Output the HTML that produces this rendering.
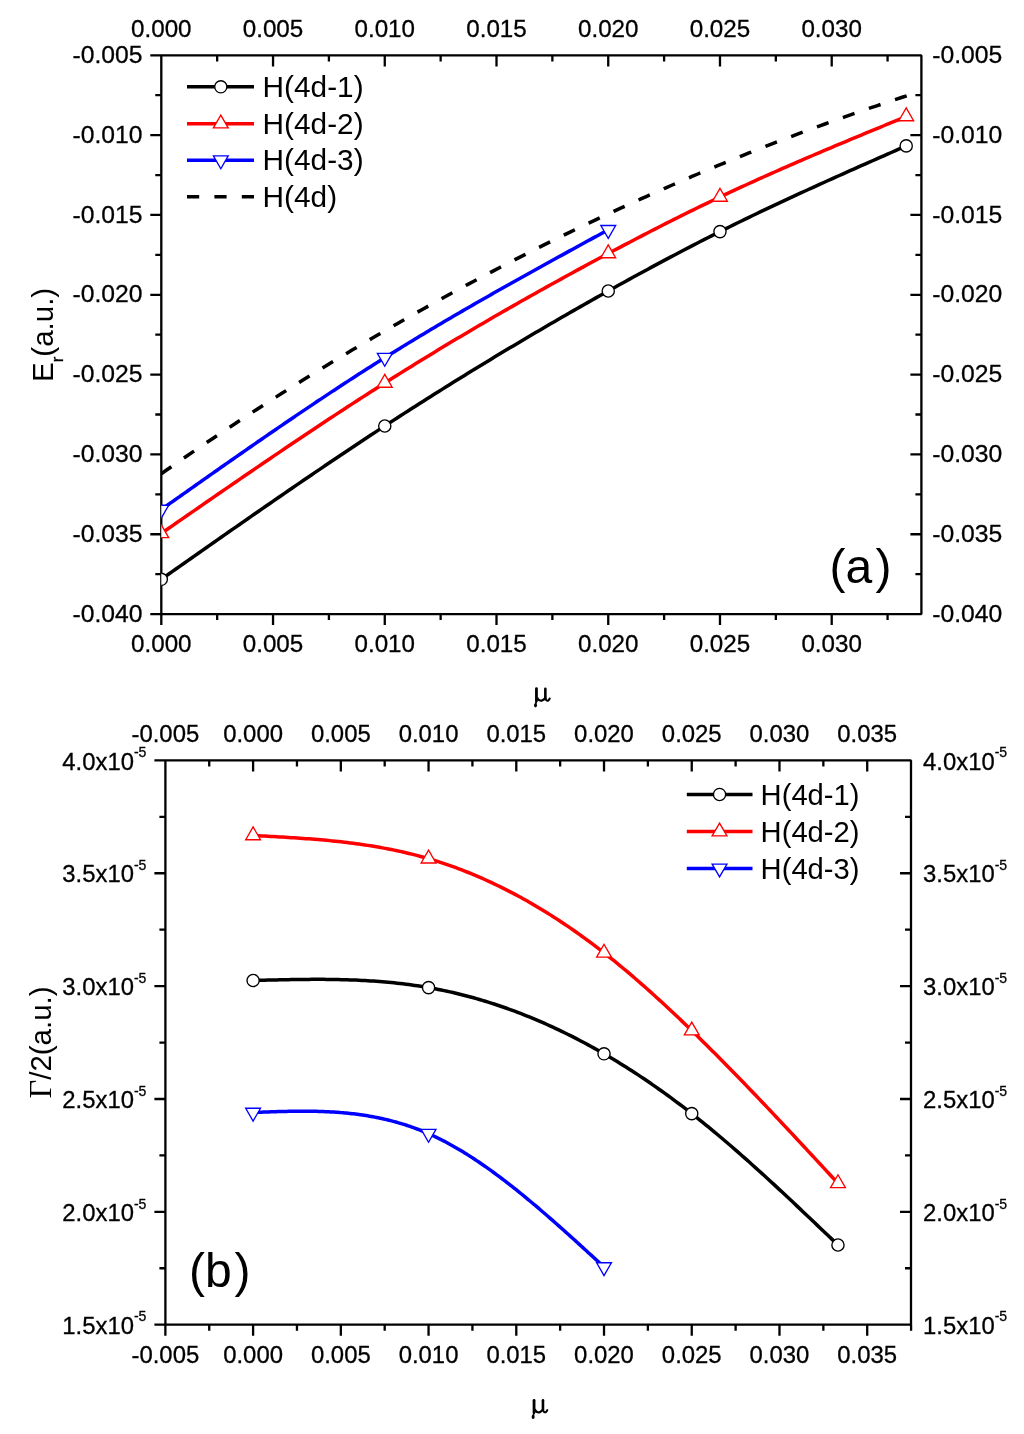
<!DOCTYPE html>
<html><head><meta charset="utf-8"><title>Er and Gamma/2 vs mu</title><style>
html,body{margin:0;padding:0;background:#fff;}
svg{display:block;will-change:transform;}
text{font-kerning:none;stroke:#000;stroke-width:0.3px;fill:#000;}
</style></head><body>
<svg width="1024" height="1434" viewBox="0 0 1024 1434">
<defs><clipPath id="ca"><rect x="161.3" y="55.4" width="760.0999999999999" height="558.7"/></clipPath><clipPath id="cb"><rect x="165.4" y="760.4" width="745.6" height="564.3000000000001"/></clipPath></defs>
<rect width="1024" height="1434" fill="#fff"/>
<rect x="161.3" y="55.4" width="760.0999999999999" height="558.7" fill="none" stroke="#000" stroke-width="2.3" stroke-linejoin="bevel"/>
<path d="M161.3 614.1v11.0M273.04 614.1v11.0M273.04 55.4v11.0M384.77 614.1v11.0M384.77 55.4v11.0M496.5 614.1v11.0M496.5 55.4v11.0M608.24 614.1v11.0M608.24 55.4v11.0M719.98 614.1v11.0M719.98 55.4v11.0M831.71 614.1v11.0M831.71 55.4v11.0M217.17 614.1v6.0M217.17 55.4v6.0M328.9 614.1v6.0M328.9 55.4v6.0M440.64 614.1v6.0M440.64 55.4v6.0M552.37 614.1v6.0M552.37 55.4v6.0M664.11 614.1v6.0M664.11 55.4v6.0M775.84 614.1v6.0M775.84 55.4v6.0M887.58 614.1v6.0M887.58 55.4v6.0M161.3 614.1h-11.0M161.3 534.27h-11.0M921.4 534.27h-11.0M161.3 454.44h-11.0M921.4 454.44h-11.0M161.3 374.61h-11.0M921.4 374.61h-11.0M161.3 294.78h-11.0M921.4 294.78h-11.0M161.3 214.95h-11.0M921.4 214.95h-11.0M161.3 135.12h-11.0M921.4 135.12h-11.0M161.3 55.29h-11.0M161.3 574.18h-6.0M921.4 574.18h-6.0M161.3 494.36h-6.0M921.4 494.36h-6.0M161.3 414.52h-6.0M921.4 414.52h-6.0M161.3 334.69h-6.0M921.4 334.69h-6.0M161.3 254.86h-6.0M921.4 254.86h-6.0M161.3 175.03h-6.0M921.4 175.03h-6.0M161.3 95.21h-6.0M921.4 95.21h-6.0" stroke="#000" stroke-width="2.3" fill="none"/>
<g fill="#000"><text x="131.02" y="651.60" font-family="'Liberation Sans', sans-serif" font-size="24.2">0.000</text><text x="131.02" y="37.00" font-family="'Liberation Sans', sans-serif" font-size="24.2">0.000</text><text x="242.76" y="651.60" font-family="'Liberation Sans', sans-serif" font-size="24.2">0.005</text><text x="242.76" y="37.00" font-family="'Liberation Sans', sans-serif" font-size="24.2">0.005</text><text x="354.49" y="651.60" font-family="'Liberation Sans', sans-serif" font-size="24.2">0.010</text><text x="354.49" y="37.00" font-family="'Liberation Sans', sans-serif" font-size="24.2">0.010</text><text x="466.23" y="651.60" font-family="'Liberation Sans', sans-serif" font-size="24.2">0.015</text><text x="466.23" y="37.00" font-family="'Liberation Sans', sans-serif" font-size="24.2">0.015</text><text x="577.96" y="651.60" font-family="'Liberation Sans', sans-serif" font-size="24.2">0.020</text><text x="577.96" y="37.00" font-family="'Liberation Sans', sans-serif" font-size="24.2">0.020</text><text x="689.70" y="651.60" font-family="'Liberation Sans', sans-serif" font-size="24.2">0.025</text><text x="689.70" y="37.00" font-family="'Liberation Sans', sans-serif" font-size="24.2">0.025</text><text x="801.43" y="651.60" font-family="'Liberation Sans', sans-serif" font-size="24.2">0.030</text><text x="801.43" y="37.00" font-family="'Liberation Sans', sans-serif" font-size="24.2">0.030</text><text x="72.56" y="621.70" font-family="'Liberation Sans', sans-serif" font-size="24.7">-0.040</text><text x="932.30" y="621.70" font-family="'Liberation Sans', sans-serif" font-size="24.7">-0.040</text><text x="72.56" y="541.87" font-family="'Liberation Sans', sans-serif" font-size="24.7">-0.035</text><text x="932.30" y="541.87" font-family="'Liberation Sans', sans-serif" font-size="24.7">-0.035</text><text x="72.56" y="462.04" font-family="'Liberation Sans', sans-serif" font-size="24.7">-0.030</text><text x="932.30" y="462.04" font-family="'Liberation Sans', sans-serif" font-size="24.7">-0.030</text><text x="72.56" y="382.21" font-family="'Liberation Sans', sans-serif" font-size="24.7">-0.025</text><text x="932.30" y="382.21" font-family="'Liberation Sans', sans-serif" font-size="24.7">-0.025</text><text x="72.56" y="302.38" font-family="'Liberation Sans', sans-serif" font-size="24.7">-0.020</text><text x="932.30" y="302.38" font-family="'Liberation Sans', sans-serif" font-size="24.7">-0.020</text><text x="72.56" y="222.55" font-family="'Liberation Sans', sans-serif" font-size="24.7">-0.015</text><text x="932.30" y="222.55" font-family="'Liberation Sans', sans-serif" font-size="24.7">-0.015</text><text x="72.56" y="142.72" font-family="'Liberation Sans', sans-serif" font-size="24.7">-0.010</text><text x="932.30" y="142.72" font-family="'Liberation Sans', sans-serif" font-size="24.7">-0.010</text><text x="72.56" y="62.89" font-family="'Liberation Sans', sans-serif" font-size="24.7">-0.005</text><text x="932.30" y="62.89" font-family="'Liberation Sans', sans-serif" font-size="24.7">-0.005</text></g>
<polyline points="161.3,473.75 167.69,469.29 174.07,464.85 180.46,460.44 186.85,456.05 193.24,451.68 199.62,447.34 206.01,443.01 212.4,438.71 218.79,434.43 225.17,430.17 231.56,425.94 237.95,421.72 244.34,417.53 250.72,413.36 257.11,409.21 263.5,405.09 269.89,400.98 276.27,396.9 282.66,392.84 289.05,388.8 295.44,384.78 301.82,380.79 308.21,376.81 314.6,372.86 320.98,368.93 327.37,365.02 333.76,361.13 340.15,357.27 346.53,353.42 352.92,349.6 359.31,345.8 365.7,342.02 372.08,338.26 378.47,334.52 384.86,330.8 391.25,327.1 397.63,323.43 404.02,319.78 410.41,316.14 416.8,312.53 423.18,308.94 429.57,305.37 435.96,301.83 442.35,298.3 448.73,294.79 455.12,291.31 461.51,287.84 467.89,284.4 474.28,280.97 480.67,277.57 487.06,274.19 493.44,270.83 499.83,267.49 506.22,264.17 512.61,260.87 518.99,257.59 525.38,254.33 531.77,251.1 538.16,247.88 544.54,244.68 550.93,241.51 557.32,238.35 563.71,235.21 570.09,232.1 576.48,229 582.87,225.93 589.26,222.88 595.64,219.84 602.03,216.83 608.42,213.83 614.81,210.86 621.19,207.9 627.58,204.97 633.97,202.06 640.35,199.16 646.74,196.29 653.13,193.43 659.52,190.6 665.9,187.78 672.29,184.99 678.68,182.21 685.07,179.46 691.45,176.72 697.84,174 704.23,171.31 710.62,168.63 717,165.97 723.39,163.34 729.78,160.72 736.17,158.12 742.55,155.54 748.94,152.98 755.33,150.44 761.72,147.91 768.1,145.41 774.49,142.93 780.88,140.46 787.26,138.02 793.65,135.59 800.04,133.19 806.43,130.8 812.81,128.43 819.2,126.08 825.59,123.75 831.98,121.44 838.36,119.15 844.75,116.87 851.14,114.62 857.53,112.38 863.91,110.17 870.3,107.97 876.69,105.79 883.08,103.63 889.46,101.48 895.85,99.36 902.24,97.26 908.63,95.17 915.01,93.1 921.4,91.05" fill="none" stroke="#000" stroke-width="3.5" stroke-linejoin="round" stroke-dasharray="12.3 15.25" stroke-linecap="butt" clip-path="url(#ca)"/>
<polyline points="161.3,579.3 165.04,576.67 168.79,574.04 172.53,571.41 176.27,568.78 180.02,566.15 183.76,563.52 187.5,560.89 191.25,558.26 194.99,555.64 198.73,553.01 202.48,550.38 206.22,547.76 209.96,545.14 213.71,542.52 217.45,539.9 221.19,537.28 224.93,534.66 228.68,532.05 232.42,529.43 236.16,526.82 239.91,524.22 243.65,521.61 247.39,519.01 251.14,516.4 254.88,513.8 258.62,511.21 262.37,508.61 266.11,506.02 269.85,503.44 273.6,500.85 277.34,498.27 281.08,495.69 284.83,493.12 288.57,490.55 292.31,487.98 296.06,485.41 299.8,482.85 303.54,480.3 307.29,477.75 311.03,475.2 314.77,472.65 318.52,470.11 322.26,467.58 326,465.05 329.74,462.52 333.49,460 337.23,457.49 340.97,454.97 344.72,452.47 348.46,449.97 352.2,447.47 355.95,444.98 359.69,442.5 363.43,440.02 367.18,437.54 370.92,435.08 374.66,432.62 378.41,430.16 382.15,427.71 385.89,425.27 389.64,422.83 393.38,420.4 397.12,417.98 400.87,415.56 404.61,413.15 408.35,410.74 412.1,408.34 415.84,405.95 419.58,403.56 423.33,401.18 427.07,398.81 430.81,396.44 434.55,394.08 438.3,391.72 442.04,389.37 445.78,387.03 449.53,384.69 453.27,382.36 457.01,380.04 460.76,377.72 464.5,375.4 468.24,373.1 471.99,370.8 475.73,368.5 479.47,366.21 483.22,363.93 486.96,361.65 490.7,359.38 494.45,357.11 498.19,354.85 501.93,352.6 505.68,350.35 509.42,348.11 513.16,345.88 516.91,343.65 520.65,341.42 524.39,339.2 528.14,336.99 531.88,334.78 535.62,332.58 539.36,330.39 543.11,328.2 546.85,326.01 550.59,323.83 554.34,321.66 558.08,319.5 561.82,317.33 565.57,315.18 569.31,313.03 573.05,310.88 576.8,308.75 580.54,306.61 584.28,304.48 588.03,302.36 591.77,300.25 595.51,298.14 599.26,296.03 603,293.93 606.74,291.84 610.49,289.75 614.23,287.66 617.97,285.59 621.72,283.51 625.46,281.45 629.2,279.39 632.95,277.33 636.69,275.29 640.43,273.25 644.17,271.21 647.92,269.18 651.66,267.16 655.4,265.15 659.15,263.14 662.89,261.14 666.63,259.15 670.38,257.16 674.12,255.18 677.86,253.21 681.61,251.25 685.35,249.29 689.09,247.35 692.84,245.41 696.58,243.48 700.32,241.55 704.07,239.64 707.81,237.73 711.55,235.84 715.3,233.95 719.04,232.07 722.78,230.2 726.53,228.34 730.27,226.48 734.01,224.64 737.76,222.8 741.5,220.98 745.24,219.16 748.98,217.34 752.73,215.54 756.47,213.74 760.21,211.95 763.96,210.17 767.7,208.4 771.44,206.63 775.19,204.87 778.93,203.11 782.67,201.36 786.42,199.62 790.16,197.88 793.9,196.15 797.65,194.42 801.39,192.7 805.13,190.98 808.88,189.27 812.62,187.56 816.36,185.86 820.11,184.16 823.85,182.47 827.59,180.78 831.34,179.09 835.08,177.41 838.82,175.73 842.57,174.06 846.31,172.39 850.05,170.72 853.79,169.05 857.54,167.39 861.28,165.72 865.02,164.06 868.77,162.41 872.51,160.75 876.25,159.1 880,157.44 883.74,155.79 887.48,154.14 891.23,152.49 894.97,150.84 898.71,149.2 902.46,147.55 906.2,145.9" fill="none" stroke="#000" stroke-width="3.5" stroke-linejoin="round" clip-path="url(#ca)"/>
<polyline points="161.3,533.4 165.04,530.81 168.79,528.21 172.53,525.62 176.27,523.03 180.02,520.43 183.76,517.84 187.5,515.25 191.25,512.66 194.99,510.07 198.73,507.48 202.48,504.9 206.22,502.31 209.96,499.73 213.71,497.14 217.45,494.56 221.19,491.98 224.93,489.41 228.68,486.83 232.42,484.26 236.16,481.69 239.91,479.12 243.65,476.56 247.39,474 251.14,471.44 254.88,468.88 258.62,466.33 262.37,463.78 266.11,461.23 269.85,458.69 273.6,456.15 277.34,453.61 281.08,451.08 284.83,448.55 288.57,446.03 292.31,443.51 296.06,441 299.8,438.49 303.54,435.98 307.29,433.48 311.03,430.99 314.77,428.49 318.52,426.01 322.26,423.53 326,421.05 329.74,418.58 333.49,416.12 337.23,413.66 340.97,411.21 344.72,408.76 348.46,406.32 352.2,403.89 355.95,401.46 359.69,399.04 363.43,396.63 367.18,394.22 370.92,391.82 374.66,389.43 378.41,387.04 382.15,384.66 385.89,382.29 389.64,379.93 393.38,377.57 397.12,375.22 400.87,372.88 404.61,370.54 408.35,368.22 412.1,365.9 415.84,363.58 419.58,361.28 423.33,358.98 427.07,356.69 430.81,354.4 434.55,352.13 438.3,349.86 442.04,347.59 445.78,345.34 449.53,343.09 453.27,340.84 457.01,338.61 460.76,336.38 464.5,334.16 468.24,331.94 471.99,329.73 475.73,327.53 479.47,325.33 483.22,323.14 486.96,320.96 490.7,318.78 494.45,316.61 498.19,314.45 501.93,312.29 505.68,310.14 509.42,308 513.16,305.86 516.91,303.72 520.65,301.6 524.39,299.48 528.14,297.36 531.88,295.26 535.62,293.15 539.36,291.06 543.11,288.97 546.85,286.88 550.59,284.8 554.34,282.73 558.08,280.66 561.82,278.6 565.57,276.55 569.31,274.5 573.05,272.45 576.8,270.41 580.54,268.38 584.28,266.35 588.03,264.33 591.77,262.31 595.51,260.3 599.26,258.29 603,256.29 606.74,254.3 610.49,252.31 614.23,250.32 617.97,248.34 621.72,246.37 625.46,244.4 629.2,242.44 632.95,240.48 636.69,238.53 640.43,236.58 644.17,234.64 647.92,232.71 651.66,230.79 655.4,228.87 659.15,226.96 662.89,225.06 666.63,223.16 670.38,221.27 674.12,219.39 677.86,217.51 681.61,215.65 685.35,213.79 689.09,211.94 692.84,210.1 696.58,208.26 700.32,206.44 704.07,204.62 707.81,202.81 711.55,201.01 715.3,199.22 719.04,197.44 722.78,195.67 726.53,193.91 730.27,192.16 734.01,190.41 737.76,188.68 741.5,186.95 745.24,185.23 748.98,183.52 752.73,181.82 756.47,180.12 760.21,178.44 763.96,176.76 767.7,175.08 771.44,173.42 775.19,171.76 778.93,170.11 782.67,168.46 786.42,166.82 790.16,165.19 793.9,163.56 797.65,161.94 801.39,160.32 805.13,158.71 808.88,157.1 812.62,155.5 816.36,153.9 820.11,152.31 823.85,150.72 827.59,149.14 831.34,147.56 835.08,145.98 838.82,144.41 842.57,142.84 846.31,141.27 850.05,139.71 853.79,138.15 857.54,136.59 861.28,135.04 865.02,133.49 868.77,131.93 872.51,130.39 876.25,128.84 880,127.29 883.74,125.75 887.48,124.21 891.23,122.66 894.97,121.12 898.71,119.58 902.46,118.04 906.2,116.5" fill="none" stroke="#f00" stroke-width="3.5" stroke-linejoin="round" clip-path="url(#ca)"/>
<polyline points="161.3,509.5 163.55,507.91 165.79,506.33 168.04,504.74 170.28,503.16 172.53,501.57 174.78,499.99 177.02,498.4 179.27,496.82 181.51,495.23 183.76,493.65 186.01,492.07 188.25,490.48 190.5,488.9 192.74,487.32 194.99,485.74 197.23,484.15 199.48,482.57 201.73,480.99 203.97,479.41 206.22,477.83 208.46,476.26 210.71,474.68 212.96,473.1 215.2,471.53 217.45,469.95 219.69,468.38 221.94,466.81 224.19,465.23 226.43,463.66 228.68,462.09 230.92,460.52 233.17,458.96 235.42,457.39 237.66,455.83 239.91,454.26 242.15,452.7 244.4,451.14 246.65,449.58 248.89,448.02 251.14,446.46 253.38,444.91 255.63,443.35 257.87,441.8 260.12,440.25 262.37,438.7 264.61,437.15 266.86,435.6 269.1,434.06 271.35,432.52 273.6,430.97 275.84,429.44 278.09,427.9 280.33,426.36 282.58,424.83 284.83,423.3 287.07,421.77 289.32,420.24 291.56,418.71 293.81,417.19 296.06,415.67 298.3,414.15 300.55,412.63 302.79,411.12 305.04,409.61 307.29,408.1 309.53,406.59 311.78,405.08 314.02,403.58 316.27,402.08 318.52,400.58 320.76,399.09 323.01,397.6 325.25,396.11 327.5,394.62 329.74,393.13 331.99,391.65 334.24,390.17 336.48,388.7 338.73,387.22 340.97,385.75 343.22,384.28 345.47,382.82 347.71,381.36 349.96,379.9 352.2,378.44 354.45,376.99 356.7,375.54 358.94,374.09 361.19,372.65 363.43,371.21 365.68,369.77 367.93,368.34 370.17,366.91 372.42,365.48 374.66,364.06 376.91,362.64 379.16,361.23 381.4,359.81 383.65,358.4 385.89,357 388.14,355.6 390.38,354.2 392.63,352.8 394.88,351.41 397.12,350.02 399.37,348.64 401.61,347.26 403.86,345.88 406.11,344.51 408.35,343.13 410.6,341.77 412.84,340.4 415.09,339.04 417.34,337.68 419.58,336.33 421.83,334.97 424.07,333.63 426.32,332.28 428.57,330.94 430.81,329.6 433.06,328.26 435.3,326.92 437.55,325.59 439.8,324.26 442.04,322.94 444.29,321.61 446.53,320.29 448.78,318.97 451.02,317.66 453.27,316.34 455.52,315.03 457.76,313.72 460.01,312.42 462.25,311.12 464.5,309.81 466.75,308.52 468.99,307.22 471.24,305.92 473.48,304.63 475.73,303.34 477.98,302.06 480.22,300.77 482.47,299.49 484.71,298.2 486.96,296.93 489.21,295.65 491.45,294.37 493.7,293.1 495.94,291.83 498.19,290.56 500.44,289.29 502.68,288.02 504.93,286.76 507.17,285.49 509.42,284.23 511.67,282.97 513.91,281.72 516.16,280.46 518.4,279.2 520.65,277.95 522.89,276.7 525.14,275.45 527.39,274.2 529.63,272.95 531.88,271.7 534.12,270.46 536.37,269.21 538.62,267.97 540.86,266.73 543.11,265.48 545.35,264.24 547.6,263 549.85,261.77 552.09,260.53 554.34,259.29 556.58,258.06 558.83,256.82 561.08,255.59 563.32,254.36 565.57,253.12 567.81,251.89 570.06,250.66 572.31,249.43 574.55,248.2 576.8,246.97 579.04,245.74 581.29,244.52 583.53,243.29 585.78,242.06 588.03,240.83 590.27,239.61 592.52,238.38 594.76,237.15 597.01,235.93 599.26,234.7 601.5,233.48 603.75,232.25 605.99,231.03 608.24,229.8" fill="none" stroke="#00f" stroke-width="3.5" stroke-linejoin="round" clip-path="url(#ca)"/>
<circle cx="161.3" cy="579.3" r="6.1" fill="#fff" stroke="#000" stroke-width="1.35" clip-path="url(#ca)"/>
<circle cx="384.77" cy="426" r="6.1" fill="#fff" stroke="#000" stroke-width="1.35" clip-path="url(#ca)"/>
<circle cx="608.24" cy="291" r="6.1" fill="#fff" stroke="#000" stroke-width="1.35" clip-path="url(#ca)"/>
<circle cx="719.98" cy="231.6" r="6.1" fill="#fff" stroke="#000" stroke-width="1.35" clip-path="url(#ca)"/>
<circle cx="906.2" cy="145.9" r="6.1" fill="#fff" stroke="#000" stroke-width="1.35" clip-path="url(#ca)"/>
<polygon points="161.3,524.86 168.7,537.67 153.9,537.67" fill="#fff" stroke="#f00" stroke-width="1.35" stroke-linejoin="miter" clip-path="url(#ca)"/>
<polygon points="384.77,374.46 392.17,387.27 377.37,387.27" fill="#fff" stroke="#f00" stroke-width="1.35" stroke-linejoin="miter" clip-path="url(#ca)"/>
<polygon points="608.24,244.96 615.64,257.77 600.84,257.77" fill="#fff" stroke="#f00" stroke-width="1.35" stroke-linejoin="miter" clip-path="url(#ca)"/>
<polygon points="719.98,188.46 727.38,201.27 712.58,201.27" fill="#fff" stroke="#f00" stroke-width="1.35" stroke-linejoin="miter" clip-path="url(#ca)"/>
<polygon points="906.2,107.96 913.6,120.77 898.8,120.77" fill="#fff" stroke="#f00" stroke-width="1.35" stroke-linejoin="miter" clip-path="url(#ca)"/>
<polygon points="161.3,518.04 168.7,505.23 153.9,505.23" fill="#fff" stroke="#00f" stroke-width="1.35" stroke-linejoin="miter" clip-path="url(#ca)"/>
<polygon points="384.77,366.24 392.17,353.43 377.37,353.43" fill="#fff" stroke="#00f" stroke-width="1.35" stroke-linejoin="miter" clip-path="url(#ca)"/>
<polygon points="608.24,238.34 615.64,225.53 600.84,225.53" fill="#fff" stroke="#00f" stroke-width="1.35" stroke-linejoin="miter" clip-path="url(#ca)"/>
<line x1="187.0" y1="86.8" x2="254.0" y2="86.8" stroke="#000" stroke-width="3.5"/>
<circle cx="220.8" cy="86.8" r="6.1" fill="#fff" stroke="#000" stroke-width="1.35"/>
<text x="262.60" y="96.90" font-family="'Liberation Sans', sans-serif" font-size="29.8" style="stroke:none">H(4d-1)</text>
<line x1="187.0" y1="123.65" x2="254.0" y2="123.65" stroke="#f00" stroke-width="3.5"/>
<polygon points="220.8,115.11 228.2,127.92 213.4,127.92" fill="#fff" stroke="#f00" stroke-width="1.35" stroke-linejoin="miter"/>
<text x="262.60" y="133.75" font-family="'Liberation Sans', sans-serif" font-size="29.8" style="stroke:none">H(4d-2)</text>
<line x1="187.0" y1="160.2" x2="254.0" y2="160.2" stroke="#00f" stroke-width="3.5"/>
<polygon points="220.8,168.74 228.2,155.93 213.4,155.93" fill="#fff" stroke="#00f" stroke-width="1.35" stroke-linejoin="miter"/>
<text x="262.60" y="170.30" font-family="'Liberation Sans', sans-serif" font-size="29.8" style="stroke:none">H(4d-3)</text>
<line x1="187.0" y1="196.65" x2="254.0" y2="196.65" stroke="#000" stroke-width="3.5" stroke-dasharray="12.2 15.2"/>
<text x="262.60" y="206.75" font-family="'Liberation Sans', sans-serif" font-size="29.8" style="stroke:none">H(4d)</text>
<text x="829.50" y="582.70" font-family="'Liberation Sans', sans-serif" font-size="48" style="stroke:none">(a<tspan dx="3.3">)</tspan></text>
<g id="mu" aria-label="μ" fill="none" stroke="#000">
<path d="M536.45,688.7 L536.45,701" stroke-width="2.8" stroke-linecap="round"/>
<path d="M536.45,700.5 L535.7,704" stroke-width="1.7"/>
<ellipse cx="535.5" cy="705.3" rx="1.5" ry="2.1" fill="#000" stroke="none"/>
<path d="M545.35,688.7 L545.35,698" stroke-width="2.6" stroke-linecap="round"/>
<path d="M537.2,697.5 C538,700.3 540.5,701.3 542.5,700.3 C543.8,699.7 544.6,699 545.3,698" stroke-width="2.2"/>
<path d="M545.35,697.5 C545.6,700.3 547,701.2 548.3,700.5 C548.9,700.1 549.3,699.4 549.7,698.5" stroke-width="2.0" stroke-linecap="round"/>
</g>
<g transform="translate(53,382) rotate(-90)"><text x="0.00" y="0.00" font-family="'Liberation Sans', sans-serif" font-size="29.5" style="stroke:none">E</text><text x="19.68" y="10.00" font-family="'Liberation Sans', sans-serif" font-size="17">r</text><text x="25.34" y="0.00" font-family="'Liberation Sans', sans-serif" font-size="29.5" style="stroke:none">(a.u.)</text></g>
<rect x="165.4" y="760.4" width="745.6" height="564.3000000000001" fill="none" stroke="#000" stroke-width="2.3" stroke-linejoin="bevel"/>
<path d="M165.37 1324.7v11.0M253.1 1324.7v11.0M253.1 760.4v11.0M340.83 1324.7v11.0M340.83 760.4v11.0M428.56 1324.7v11.0M428.56 760.4v11.0M516.29 1324.7v11.0M516.29 760.4v11.0M604.02 1324.7v11.0M604.02 760.4v11.0M691.75 1324.7v11.0M691.75 760.4v11.0M779.48 1324.7v11.0M779.48 760.4v11.0M867.21 1324.7v11.0M867.21 760.4v11.0M209.23 1324.7v6.0M209.23 760.4v6.0M296.96 1324.7v6.0M296.96 760.4v6.0M384.69 1324.7v6.0M384.69 760.4v6.0M472.42 1324.7v6.0M472.42 760.4v6.0M560.15 1324.7v6.0M560.15 760.4v6.0M647.88 1324.7v6.0M647.88 760.4v6.0M735.62 1324.7v6.0M735.62 760.4v6.0M823.35 1324.7v6.0M823.35 760.4v6.0M911.08 1324.7v6.0M165.4 1324.7h-11.0M165.4 1211.84h-11.0M911 1211.84h-11.0M165.4 1098.98h-11.0M911 1098.98h-11.0M165.4 986.12h-11.0M911 986.12h-11.0M165.4 873.26h-11.0M911 873.26h-11.0M165.4 760.4h-11.0M165.4 1268.27h-6.0M911 1268.27h-6.0M165.4 1155.41h-6.0M911 1155.41h-6.0M165.4 1042.55h-6.0M911 1042.55h-6.0M165.4 929.69h-6.0M911 929.69h-6.0M165.4 816.83h-6.0M911 816.83h-6.0" stroke="#000" stroke-width="2.3" fill="none"/>
<g fill="#000"><text x="131.49" y="1362.80" font-family="'Liberation Sans', sans-serif" font-size="23.9">-0.005</text><text x="131.49" y="741.70" font-family="'Liberation Sans', sans-serif" font-size="23.9">-0.005</text><text x="223.20" y="1362.80" font-family="'Liberation Sans', sans-serif" font-size="23.9">0.000</text><text x="223.20" y="741.70" font-family="'Liberation Sans', sans-serif" font-size="23.9">0.000</text><text x="310.93" y="1362.80" font-family="'Liberation Sans', sans-serif" font-size="23.9">0.005</text><text x="310.93" y="741.70" font-family="'Liberation Sans', sans-serif" font-size="23.9">0.005</text><text x="398.66" y="1362.80" font-family="'Liberation Sans', sans-serif" font-size="23.9">0.010</text><text x="398.66" y="741.70" font-family="'Liberation Sans', sans-serif" font-size="23.9">0.010</text><text x="486.39" y="1362.80" font-family="'Liberation Sans', sans-serif" font-size="23.9">0.015</text><text x="486.39" y="741.70" font-family="'Liberation Sans', sans-serif" font-size="23.9">0.015</text><text x="574.12" y="1362.80" font-family="'Liberation Sans', sans-serif" font-size="23.9">0.020</text><text x="574.12" y="741.70" font-family="'Liberation Sans', sans-serif" font-size="23.9">0.020</text><text x="661.85" y="1362.80" font-family="'Liberation Sans', sans-serif" font-size="23.9">0.025</text><text x="661.85" y="741.70" font-family="'Liberation Sans', sans-serif" font-size="23.9">0.025</text><text x="749.58" y="1362.80" font-family="'Liberation Sans', sans-serif" font-size="23.9">0.030</text><text x="749.58" y="741.70" font-family="'Liberation Sans', sans-serif" font-size="23.9">0.030</text><text x="837.31" y="1362.80" font-family="'Liberation Sans', sans-serif" font-size="23.9">0.035</text><text x="837.31" y="741.70" font-family="'Liberation Sans', sans-serif" font-size="23.9">0.035</text><text x="62.34" y="1333.80" font-family="'Liberation Sans', sans-serif" font-size="23.85">1.5x10</text><text x="133.95" y="1321.40" font-family="'Liberation Sans', sans-serif" font-size="14">-5</text><text x="923.10" y="1333.80" font-family="'Liberation Sans', sans-serif" font-size="23.85">1.5x10</text><text x="994.71" y="1321.40" font-family="'Liberation Sans', sans-serif" font-size="14">-5</text><text x="62.34" y="1220.94" font-family="'Liberation Sans', sans-serif" font-size="23.85">2.0x10</text><text x="133.95" y="1208.54" font-family="'Liberation Sans', sans-serif" font-size="14">-5</text><text x="923.10" y="1220.94" font-family="'Liberation Sans', sans-serif" font-size="23.85">2.0x10</text><text x="994.71" y="1208.54" font-family="'Liberation Sans', sans-serif" font-size="14">-5</text><text x="62.34" y="1108.08" font-family="'Liberation Sans', sans-serif" font-size="23.85">2.5x10</text><text x="133.95" y="1095.68" font-family="'Liberation Sans', sans-serif" font-size="14">-5</text><text x="923.10" y="1108.08" font-family="'Liberation Sans', sans-serif" font-size="23.85">2.5x10</text><text x="994.71" y="1095.68" font-family="'Liberation Sans', sans-serif" font-size="14">-5</text><text x="62.34" y="995.22" font-family="'Liberation Sans', sans-serif" font-size="23.85">3.0x10</text><text x="133.95" y="982.82" font-family="'Liberation Sans', sans-serif" font-size="14">-5</text><text x="923.10" y="995.22" font-family="'Liberation Sans', sans-serif" font-size="23.85">3.0x10</text><text x="994.71" y="982.82" font-family="'Liberation Sans', sans-serif" font-size="14">-5</text><text x="62.34" y="882.36" font-family="'Liberation Sans', sans-serif" font-size="23.85">3.5x10</text><text x="133.95" y="869.96" font-family="'Liberation Sans', sans-serif" font-size="14">-5</text><text x="923.10" y="882.36" font-family="'Liberation Sans', sans-serif" font-size="23.85">3.5x10</text><text x="994.71" y="869.96" font-family="'Liberation Sans', sans-serif" font-size="14">-5</text><text x="62.34" y="769.50" font-family="'Liberation Sans', sans-serif" font-size="23.85">4.0x10</text><text x="133.95" y="757.10" font-family="'Liberation Sans', sans-serif" font-size="14">-5</text><text x="923.10" y="769.50" font-family="'Liberation Sans', sans-serif" font-size="23.85">4.0x10</text><text x="994.71" y="757.10" font-family="'Liberation Sans', sans-serif" font-size="14">-5</text></g>
<polyline points="253.1,980.5 256.04,980.42 258.98,980.34 261.92,980.26 264.86,980.19 267.8,980.11 270.73,980.04 273.67,979.97 276.61,979.9 279.55,979.83 282.49,979.77 285.43,979.71 288.37,979.65 291.31,979.6 294.25,979.55 297.19,979.5 300.12,979.46 303.06,979.43 306,979.4 308.94,979.38 311.88,979.37 314.82,979.36 317.76,979.35 320.7,979.36 323.64,979.37 326.58,979.39 329.51,979.42 332.45,979.46 335.39,979.51 338.33,979.57 341.27,979.63 344.21,979.71 347.15,979.79 350.09,979.89 353.03,980 355.97,980.12 358.91,980.25 361.84,980.39 364.78,980.55 367.72,980.71 370.66,980.9 373.6,981.09 376.54,981.3 379.48,981.52 382.42,981.76 385.36,982.01 388.3,982.27 391.23,982.55 394.17,982.85 397.11,983.16 400.05,983.49 402.99,983.84 405.93,984.2 408.87,984.58 411.81,984.98 414.75,985.4 417.69,985.83 420.62,986.28 423.56,986.75 426.5,987.24 429.44,987.76 432.38,988.29 435.32,988.84 438.26,989.41 441.2,990 444.14,990.61 447.08,991.24 450.01,991.89 452.95,992.56 455.89,993.25 458.83,993.96 461.77,994.69 464.71,995.43 467.65,996.2 470.59,996.99 473.53,997.8 476.47,998.63 479.41,999.48 482.34,1000.35 485.28,1001.24 488.22,1002.15 491.16,1003.07 494.1,1004.02 497.04,1004.99 499.98,1005.98 502.92,1006.99 505.86,1008.02 508.8,1009.06 511.73,1010.13 514.67,1011.22 517.61,1012.33 520.55,1013.45 523.49,1014.6 526.43,1015.77 529.37,1016.96 532.31,1018.16 535.25,1019.39 538.19,1020.64 541.12,1021.91 544.06,1023.19 547,1024.5 549.94,1025.83 552.88,1027.17 555.82,1028.54 558.76,1029.93 561.7,1031.33 564.64,1032.76 567.58,1034.21 570.52,1035.67 573.45,1037.16 576.39,1038.67 579.33,1040.19 582.27,1041.74 585.21,1043.3 588.15,1044.89 591.09,1046.5 594.03,1048.12 596.97,1049.77 599.91,1051.43 602.84,1053.12 605.78,1054.83 608.72,1056.55 611.66,1058.3 614.6,1060.06 617.54,1061.85 620.48,1063.65 623.42,1065.48 626.36,1067.33 629.3,1069.19 632.23,1071.08 635.17,1072.98 638.11,1074.91 641.05,1076.86 643.99,1078.82 646.93,1080.81 649.87,1082.81 652.81,1084.84 655.75,1086.89 658.69,1088.96 661.62,1091.04 664.56,1093.15 667.5,1095.28 670.44,1097.42 673.38,1099.59 676.32,1101.78 679.26,1103.99 682.2,1106.22 685.14,1108.47 688.08,1110.74 691.02,1113.02 693.95,1115.33 696.89,1117.66 699.83,1120.01 702.77,1122.38 705.71,1124.77 708.65,1127.17 711.59,1129.6 714.53,1132.04 717.47,1134.5 720.41,1136.97 723.34,1139.46 726.28,1141.97 729.22,1144.49 732.16,1147.03 735.1,1149.58 738.04,1152.15 740.98,1154.73 743.92,1157.32 746.86,1159.93 749.8,1162.55 752.73,1165.18 755.67,1167.83 758.61,1170.48 761.55,1173.15 764.49,1175.82 767.43,1178.51 770.37,1181.21 773.31,1183.91 776.25,1186.63 779.19,1189.35 782.13,1192.09 785.06,1194.83 788,1197.57 790.94,1200.33 793.88,1203.09 796.82,1205.85 799.76,1208.63 802.7,1211.4 805.64,1214.19 808.58,1216.97 811.52,1219.76 814.45,1222.56 817.39,1225.36 820.33,1228.16 823.27,1230.96 826.21,1233.77 829.15,1236.57 832.09,1239.38 835.03,1242.19 837.97,1245" fill="none" stroke="#000" stroke-width="3.5" stroke-linejoin="round" />
<polyline points="253.1,835.5 256.04,835.65 258.98,835.81 261.92,835.96 264.86,836.11 267.8,836.27 270.73,836.43 273.67,836.59 276.61,836.75 279.55,836.92 282.49,837.09 285.43,837.27 288.37,837.45 291.31,837.63 294.25,837.82 297.19,838.01 300.12,838.21 303.06,838.42 306,838.63 308.94,838.85 311.88,839.08 314.82,839.32 317.76,839.56 320.7,839.81 323.64,840.08 326.58,840.35 329.51,840.63 332.45,840.92 335.39,841.23 338.33,841.54 341.27,841.86 344.21,842.2 347.15,842.55 350.09,842.91 353.03,843.29 355.97,843.68 358.91,844.08 361.84,844.5 364.78,844.93 367.72,845.38 370.66,845.84 373.6,846.32 376.54,846.81 379.48,847.33 382.42,847.85 385.36,848.4 388.3,848.96 391.23,849.55 394.17,850.15 397.11,850.77 400.05,851.41 402.99,852.07 405.93,852.75 408.87,853.45 411.81,854.17 414.75,854.91 417.69,855.67 420.62,856.46 423.56,857.27 426.5,858.1 429.44,858.96 432.38,859.84 435.32,860.74 438.26,861.67 441.2,862.62 444.14,863.6 447.08,864.59 450.01,865.62 452.95,866.66 455.89,867.73 458.83,868.83 461.77,869.94 464.71,871.09 467.65,872.25 470.59,873.44 473.53,874.65 476.47,875.89 479.41,877.15 482.34,878.44 485.28,879.75 488.22,881.08 491.16,882.44 494.1,883.82 497.04,885.22 499.98,886.65 502.92,888.1 505.86,889.58 508.8,891.08 511.73,892.61 514.67,894.15 517.61,895.73 520.55,897.33 523.49,898.95 526.43,900.59 529.37,902.26 532.31,903.96 535.25,905.67 538.19,907.42 541.12,909.18 544.06,910.97 547,912.79 549.94,914.63 552.88,916.49 555.82,918.38 558.76,920.29 561.7,922.22 564.64,924.18 567.58,926.17 570.52,928.18 573.45,930.21 576.39,932.27 579.33,934.35 582.27,936.46 585.21,938.59 588.15,940.74 591.09,942.92 594.03,945.12 596.97,947.35 599.91,949.61 602.84,951.88 605.78,954.18 608.72,956.51 611.66,958.86 614.6,961.23 617.54,963.63 620.48,966.05 623.42,968.49 626.36,970.95 629.3,973.43 632.23,975.94 635.17,978.47 638.11,981.01 641.05,983.58 643.99,986.17 646.93,988.77 649.87,991.39 652.81,994.04 655.75,996.7 658.69,999.38 661.62,1002.07 664.56,1004.78 667.5,1007.51 670.44,1010.26 673.38,1013.02 676.32,1015.79 679.26,1018.58 682.2,1021.39 685.14,1024.21 688.08,1027.04 691.02,1029.89 693.95,1032.75 696.89,1035.62 699.83,1038.5 702.77,1041.4 705.71,1044.31 708.65,1047.23 711.59,1050.16 714.53,1053.1 717.47,1056.05 720.41,1059.02 723.34,1061.99 726.28,1064.98 729.22,1067.97 732.16,1070.97 735.1,1073.99 738.04,1077.01 740.98,1080.04 743.92,1083.08 746.86,1086.13 749.8,1089.18 752.73,1092.25 755.67,1095.32 758.61,1098.4 761.55,1101.48 764.49,1104.57 767.43,1107.67 770.37,1110.78 773.31,1113.89 776.25,1117 779.19,1120.12 782.13,1123.25 785.06,1126.38 788,1129.52 790.94,1132.66 793.88,1135.81 796.82,1138.95 799.76,1142.11 802.7,1145.26 805.64,1148.42 808.58,1151.58 811.52,1154.75 814.45,1157.91 817.39,1161.08 820.33,1164.25 823.27,1167.43 826.21,1170.6 829.15,1173.77 832.09,1176.95 835.03,1180.12 837.97,1183.3" fill="none" stroke="#f00" stroke-width="3.5" stroke-linejoin="round" />
<polyline points="253.1,1112.5 254.86,1112.43 256.63,1112.36 258.39,1112.29 260.15,1112.23 261.92,1112.16 263.68,1112.09 265.44,1112.03 267.21,1111.97 268.97,1111.9 270.73,1111.84 272.5,1111.78 274.26,1111.73 276.02,1111.67 277.79,1111.62 279.55,1111.57 281.31,1111.52 283.08,1111.47 284.84,1111.43 286.6,1111.39 288.37,1111.36 290.13,1111.32 291.9,1111.29 293.66,1111.27 295.42,1111.25 297.19,1111.23 298.95,1111.22 300.71,1111.21 302.48,1111.2 304.24,1111.2 306,1111.21 307.77,1111.22 309.53,1111.24 311.29,1111.26 313.06,1111.29 314.82,1111.32 316.58,1111.36 318.35,1111.4 320.11,1111.45 321.87,1111.51 323.64,1111.58 325.4,1111.65 327.16,1111.73 328.93,1111.81 330.69,1111.91 332.45,1112.01 334.22,1112.11 335.98,1112.23 337.74,1112.35 339.51,1112.49 341.27,1112.63 343.03,1112.78 344.8,1112.93 346.56,1113.1 348.32,1113.28 350.09,1113.46 351.85,1113.66 353.61,1113.86 355.38,1114.07 357.14,1114.3 358.91,1114.53 360.67,1114.77 362.43,1115.03 364.2,1115.29 365.96,1115.57 367.72,1115.85 369.49,1116.15 371.25,1116.46 373.01,1116.78 374.78,1117.11 376.54,1117.46 378.3,1117.81 380.07,1118.18 381.83,1118.56 383.59,1118.95 385.36,1119.36 387.12,1119.78 388.88,1120.21 390.65,1120.65 392.41,1121.11 394.17,1121.58 395.94,1122.06 397.7,1122.56 399.46,1123.07 401.23,1123.6 402.99,1124.14 404.75,1124.7 406.52,1125.27 408.28,1125.85 410.04,1126.45 411.81,1127.07 413.57,1127.7 415.33,1128.34 417.1,1129 418.86,1129.68 420.62,1130.38 422.39,1131.09 424.15,1131.81 425.91,1132.55 427.68,1133.31 429.44,1134.09 431.21,1134.88 432.97,1135.69 434.73,1136.52 436.5,1137.36 438.26,1138.22 440.02,1139.1 441.79,1139.99 443.55,1140.9 445.31,1141.82 447.08,1142.76 448.84,1143.71 450.6,1144.68 452.37,1145.66 454.13,1146.66 455.89,1147.67 457.66,1148.69 459.42,1149.73 461.18,1150.79 462.95,1151.86 464.71,1152.94 466.47,1154.03 468.24,1155.14 470,1156.27 471.76,1157.4 473.53,1158.55 475.29,1159.71 477.05,1160.88 478.82,1162.07 480.58,1163.26 482.34,1164.47 484.11,1165.69 485.87,1166.93 487.63,1168.17 489.4,1169.42 491.16,1170.69 492.92,1171.97 494.69,1173.26 496.45,1174.55 498.21,1175.86 499.98,1177.18 501.74,1178.51 503.51,1179.85 505.27,1181.2 507.03,1182.56 508.8,1183.93 510.56,1185.3 512.32,1186.69 514.09,1188.08 515.85,1189.49 517.61,1190.9 519.38,1192.32 521.14,1193.75 522.9,1195.19 524.67,1196.63 526.43,1198.08 528.19,1199.54 529.96,1201.01 531.72,1202.49 533.48,1203.97 535.25,1205.45 537.01,1206.95 538.77,1208.45 540.54,1209.96 542.3,1211.47 544.06,1212.99 545.83,1214.52 547.59,1216.05 549.35,1217.59 551.12,1219.13 552.88,1220.67 554.64,1222.23 556.41,1223.78 558.17,1225.34 559.93,1226.91 561.7,1228.48 563.46,1230.05 565.22,1231.63 566.99,1233.21 568.75,1234.8 570.52,1236.39 572.28,1237.98 574.04,1239.58 575.81,1241.17 577.57,1242.78 579.33,1244.38 581.1,1245.98 582.86,1247.59 584.62,1249.2 586.39,1250.81 588.15,1252.43 589.91,1254.04 591.68,1255.66 593.44,1257.28 595.2,1258.9 596.97,1260.52 598.73,1262.14 600.49,1263.76 602.26,1265.38 604.02,1267" fill="none" stroke="#00f" stroke-width="3.5" stroke-linejoin="round" />
<circle cx="253.1" cy="980.5" r="6.1" fill="#fff" stroke="#000" stroke-width="1.35"/>
<circle cx="428.56" cy="987.6" r="6.1" fill="#fff" stroke="#000" stroke-width="1.35"/>
<circle cx="604.02" cy="1053.8" r="6.1" fill="#fff" stroke="#000" stroke-width="1.35"/>
<circle cx="691.75" cy="1113.6" r="6.1" fill="#fff" stroke="#000" stroke-width="1.35"/>
<circle cx="837.97" cy="1245" r="6.1" fill="#fff" stroke="#000" stroke-width="1.35"/>
<polygon points="253.1,826.96 260.5,839.77 245.7,839.77" fill="#fff" stroke="#f00" stroke-width="1.35" stroke-linejoin="miter"/>
<polygon points="428.56,850.16 435.96,862.97 421.16,862.97" fill="#fff" stroke="#f00" stroke-width="1.35" stroke-linejoin="miter"/>
<polygon points="604.02,944.26 611.42,957.07 596.62,957.07" fill="#fff" stroke="#f00" stroke-width="1.35" stroke-linejoin="miter"/>
<polygon points="691.75,1022.06 699.15,1034.87 684.35,1034.87" fill="#fff" stroke="#f00" stroke-width="1.35" stroke-linejoin="miter"/>
<polygon points="837.97,1174.76 845.37,1187.57 830.57,1187.57" fill="#fff" stroke="#f00" stroke-width="1.35" stroke-linejoin="miter"/>
<polygon points="253.1,1121.04 260.5,1108.23 245.7,1108.23" fill="#fff" stroke="#00f" stroke-width="1.35" stroke-linejoin="miter"/>
<polygon points="428.56,1142.24 435.96,1129.43 421.16,1129.43" fill="#fff" stroke="#00f" stroke-width="1.35" stroke-linejoin="miter"/>
<polygon points="604.02,1275.54 611.42,1262.73 596.62,1262.73" fill="#fff" stroke="#00f" stroke-width="1.35" stroke-linejoin="miter"/>
<line x1="686.8" y1="794.45" x2="752.5" y2="794.45" stroke="#000" stroke-width="3.5"/>
<circle cx="719.55" cy="794.45" r="6.1" fill="#fff" stroke="#000" stroke-width="1.35"/>
<text x="760.60" y="804.55" font-family="'Liberation Sans', sans-serif" font-size="29.2" style="stroke:none">H(4d-1)</text>
<line x1="686.8" y1="831.6" x2="752.5" y2="831.6" stroke="#f00" stroke-width="3.5"/>
<polygon points="719.55,823.06 726.95,835.87 712.15,835.87" fill="#fff" stroke="#f00" stroke-width="1.35" stroke-linejoin="miter"/>
<text x="760.60" y="841.70" font-family="'Liberation Sans', sans-serif" font-size="29.2" style="stroke:none">H(4d-2)</text>
<line x1="686.8" y1="868.4" x2="752.5" y2="868.4" stroke="#00f" stroke-width="3.5"/>
<polygon points="719.55,876.94 726.95,864.13 712.15,864.13" fill="#fff" stroke="#00f" stroke-width="1.35" stroke-linejoin="miter"/>
<text x="760.60" y="878.50" font-family="'Liberation Sans', sans-serif" font-size="29.2" style="stroke:none">H(4d-3)</text>
<text x="189.10" y="1287.00" font-family="'Liberation Sans', sans-serif" font-size="48" style="stroke:none">(b<tspan dx="2.6">)</tspan></text>
<use href="#mu" aria-label="μ" transform="translate(-2.4,711.6)"/>
<g transform="translate(50.5,1098.6) rotate(-90)"><text x="0.00" y="0.00" font-family="'Liberation Serif', serif" font-size="32.5" style="stroke:none">Γ</text><text x="18.79" y="0.00" font-family="'Liberation Sans', sans-serif" font-size="29.5" style="stroke:none">/2(a.u.)</text></g>
</svg>
</body></html>
